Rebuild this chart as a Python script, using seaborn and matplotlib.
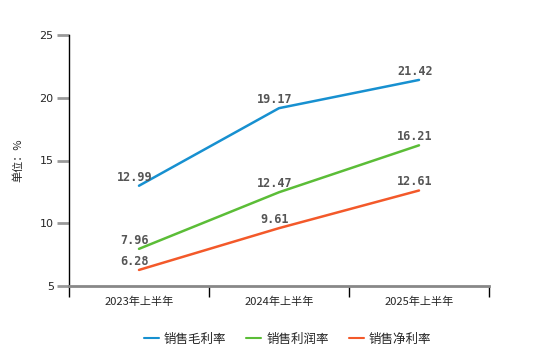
import matplotlib
matplotlib.use("Agg")
import matplotlib.pyplot as plt
import seaborn as sns
import pandas as pd

categories = ["2023年上半年", "2024年上半年", "2025年上半年"]
series_names = ["销售毛利率", "销售利润率", "销售净利率"]
gross = [12.99, 19.17, 21.42]
profit = [7.96, 12.47, 16.21]
net = [6.28, 9.61, 12.61]
colors = ["#1790d0", "#5bbd37", "#f3592a"]

sns.set_theme(style="white")
plt.rcParams['font.family'] = ['Noto Sans CJK SC', 'DejaVu Sans']

rows = []
for name, vals in zip(series_names, [gross, profit, net]):
    for i, (c, v) in enumerate(zip(categories, vals)):
        rows.append({"x": i, "cat": c, "value": v, "series": name})
df = pd.DataFrame(rows)

fig = plt.figure(figsize=(5.6, 3.46), dpi=100)
ax = fig.add_axes([69/560, 60/346, 420/560, 251/346])
sns.lineplot(data=df, x="x", y="value", hue="series", palette=colors,
             hue_order=series_names, linewidth=1.8, ax=ax, legend=True)

for name, vals in zip(series_names, [gross, profit, net]):
    for i, v in enumerate(vals):
        ax.annotate(f"{v:.2f}", (i, v), xytext=(-3, 1.5), textcoords="offset points",
                    ha="center", va="bottom", fontsize=8.5, fontweight="bold",
                    color="#555555", family="DejaVu Sans Mono")

ax.set_xlim(-0.5, 2.5)
ax.set_ylim(5, 25)
ax.set_yticks([5, 10, 15, 20, 25])
ax.set_yticklabels(["5", "10", "15", "20", "25"], fontsize=8, family="DejaVu Sans")
ax.set_xticks([0, 1, 2])
ax.set_xticklabels(categories, fontsize=8)
ax.set_xticks([-0.5, 0.5, 1.5, 2.5], minor=True)
ax.tick_params(axis="x", which="major", bottom=False, length=0, pad=8)
ax.tick_params(axis="x", which="minor", bottom=True, length=8, width=1, color="black", direction="out")
ax.tick_params(axis="y", which="major", left=True, length=9, width=2, color="#999999", direction="out", pad=2)
ax.set_xlabel("")
ax.set_ylabel("单位：%", fontsize=8, labelpad=12)

for s in ["top", "right"]:
    ax.spines[s].set_visible(False)
ax.spines["left"].set_color("black")
ax.spines["left"].set_linewidth(1)
ax.spines["bottom"].set_color("#888888")
ax.spines["bottom"].set_linewidth(2)

leg = ax.legend(loc="center", bbox_to_anchor=(0.52, -53/251), ncol=3, frameon=False,
                fontsize=9, handlelength=1.2, columnspacing=1.6, handletextpad=0.4)
for line in leg.get_lines():
    line.set_linewidth(1.5)

fig.savefig("out.png", dpi=100)
